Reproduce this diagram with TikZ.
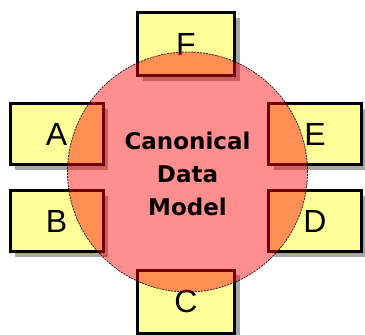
\documentclass[tikz,border=0pt]{standalone}
\usepackage{fontspec}
\setmainfont{Liberation Sans}
\newfontfamily\cdmfont{DejaVu Sans}
\usetikzlibrary{shadows}
\definecolor{boxyellow}{HTML}{FFFF99}
\begin{document}
\begin{tikzpicture}[x=1pt,y=-1pt,
  sysbox/.style={rectangle, draw=black, line width=3pt, fill=boxyellow,
    minimum width=93pt, minimum height=61pt, inner sep=0pt,
    drop shadow={shadow xshift=5pt, shadow yshift=-5pt, fill=black, opacity=0.35}},
  widebox/.style={sysbox, minimum width=97pt, minimum height=63pt},
  letter/.style={font=\fontsize{32}{32}\selectfont, inner sep=0pt},
  hub/.style={circle, minimum size=240pt, inner sep=0pt, fill=red, fill opacity=0.44,
    draw=black, draw opacity=0.8, line width=0.8pt, dash pattern=on 2pt off 1pt},
  hubtext/.style={font=\cdmfont\bfseries\fontsize{23}{33}\selectfont, align=center, inner sep=0pt}]
\useasboundingbox (0,0) rectangle (365,335);
% boxes
\node[widebox] (F) at (186,44) {};
\node[sysbox] (A) at (56.5,134) {};
\node[sysbox] (B) at (56.5,221) {};
\node[sysbox] (E) at (315,134) {};
\node[sysbox] (D) at (315,221) {};
\node[widebox] (C) at (186,301.5) {};
% letters
\node[letter] (lF) at (F.center) {F};
\node[letter] (lA) at (A.center) {A};
\node[letter] (lB) at (B.center) {B};
\node[letter] (lE) at (E.center) {E};
\node[letter] (lD) at (D.center) {D};
\node[letter] (lC) at (C.center) {C};
% canonical data model
\node[hub] (cdm) at (187.5,172) {};
\node[hubtext] (cdmtext) at (187.5,173.5) {Canonical\\Data\\Model};
\end{tikzpicture}
\end{document}
